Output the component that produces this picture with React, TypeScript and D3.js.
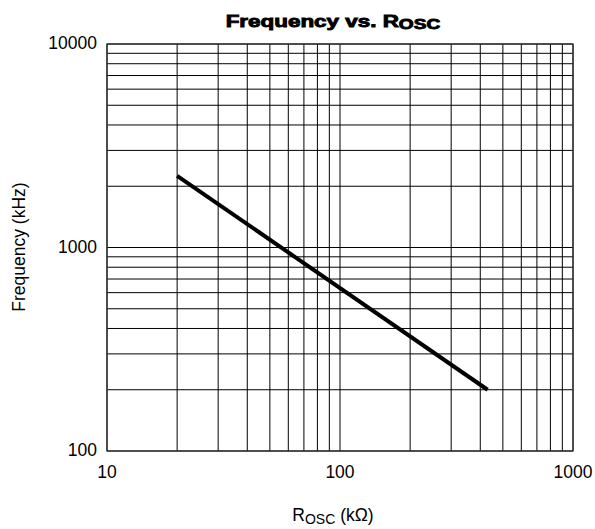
import * as d3 from "d3";

const xTicks = [10, 100, 1000];
const yTicks = [100, 1000, 10000];
const rosc = [20, 430];
const freq = [2250, 200];

const width = 595;
const height = 529;
const m = { left: 107, right: 22, top: 44, bottom: 78 };

export default function App() {
  const x = d3.scaleLog().domain([10, 1000]).range([m.left, width - m.right]);
  const y = d3.scaleLog().domain([100, 10000]).range([height - m.bottom, m.top]);

  const xGrid = x.ticks();
  const yGrid = y.ticks();
  const line = d3
    .line<number>()
    .x((_, i) => x(rosc[i]))
    .y((d) => y(d));

  const font = "Liberation Sans, Arial, sans-serif";
  const [x0, x1] = x.range();
  const [y0, y1] = y.range();

  return (
    <svg
      width={width}
      height={height}
      style={{ position: "absolute", left: 0, top: 0 }}
      fontFamily={font}
    >
      <rect width={width} height={height} fill="#fff" />
      {xGrid.map((t) => (
        <line key={"x" + t} x1={x(t)} x2={x(t)} y1={y1} y2={y0} stroke="#000" strokeWidth={1} />
      ))}
      {yGrid.map((t) => (
        <line key={"y" + t} x1={x0} x2={x1} y1={y(t)} y2={y(t)} stroke="#000" strokeWidth={1} />
      ))}
      <rect x={x0} y={y1} width={x1 - x0} height={y0 - y1} fill="none" stroke="#333" strokeWidth={1.3} />
      <path d={line(freq) ?? ""} fill="none" stroke="#000" strokeWidth={4} />
      {yTicks.map((t) => (
        <text key={t} x={x0 - 10} y={y(t) + 5} textAnchor="end" fontSize={17.5}>
          {t}
        </text>
      ))}
      {xTicks.map((t) => (
        <text key={t} x={x(t)} y={y0 + 27} textAnchor="middle" fontSize={17.5}>
          {t}
        </text>
      ))}
      <g transform="translate(333,27) scale(1.32,1)">
        <text x={0} y={0} textAnchor="middle" fontSize={17} fontWeight={900} stroke="#000" strokeWidth={0.9}>
          Frequency vs. R
          <tspan fontSize={14.5} dy={2}>OSC</tspan>
        </text>
      </g>
      <text x={333} y={521} textAnchor="middle" fontSize={17.5}>
        R<tspan fontSize={14} dy={3}>OSC</tspan>
        <tspan dy={-3}> (kΩ)</tspan>
      </text>
      <text transform={`translate(25,247) rotate(-90)`} textAnchor="middle" fontSize={17.5}>
        Frequency (kHz)
      </text>
    </svg>
  );
}
